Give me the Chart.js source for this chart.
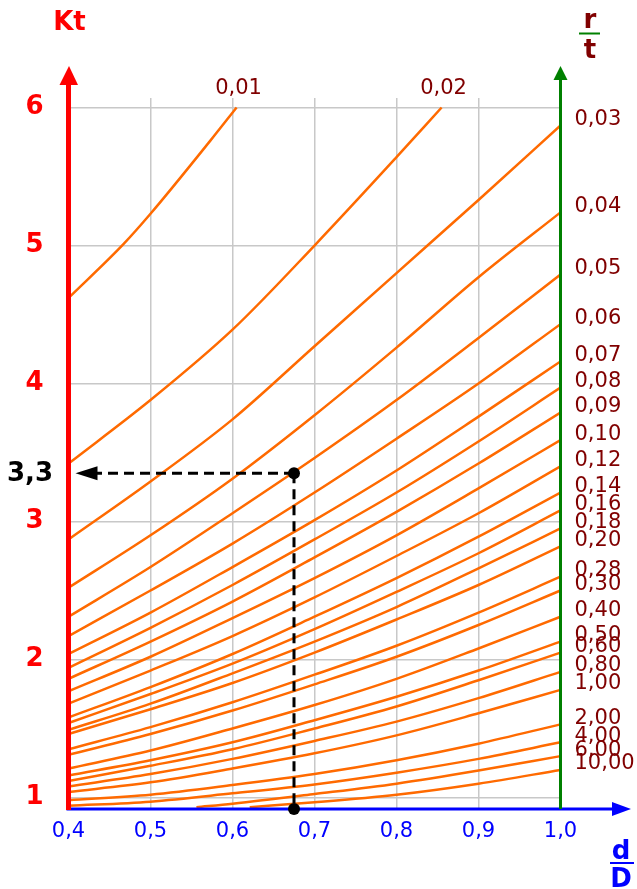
<!DOCTYPE html>
<html>
<head>
<meta charset="utf-8">
<script src="https://cdn.jsdelivr.net/npm/chart.js@4.4.1/dist/chart.umd.min.js"></script>
<style>
  html, body { margin: 0; padding: 0; background: #ffffff; }
  #wrap { width: 637px; height: 889px; }
</style>
</head>
<body>
<div id="wrap"><canvas id="c" width="637" height="889"></canvas></div>
<script>
// ---- Data ----
// x : d/D ratio, y : stress concentration factor Kt, one curve per r/t value
const dD = [0.4, 0.5, 0.6, 0.7, 0.8, 0.9, 1.0];
const xTickValues = [0.4, 0.5, 0.6, 0.7, 0.8, 0.9, 1.0];
const yTickValues = [1, 2, 3, 4, 5, 6];

const dD_001 = [0.4, 0.467, 0.5, 0.573, 0.605];
const kt_001 = [4.62, 5.01, 5.23, 5.76, 6.0];
const dD_002 = [0.4, 0.5, 0.6, 0.7, 0.8, 0.855];
const kt_002 = [3.42, 3.88, 4.39, 5.0, 5.64, 6.0];
const kt_003 = [2.87, 3.29, 3.74, 4.27, 4.80, 5.33, 5.87];
const kt_004 = [2.52, 2.90, 3.31, 3.77, 4.26, 4.77, 5.24];
const kt_005 = [2.31, 2.67, 3.06, 3.46, 3.88, 4.33, 4.79];
const kt_006 = [2.17, 2.50, 2.84, 3.21, 3.60, 4.00, 4.43];
const kt_007 = [2.04, 2.34, 2.67, 3.01, 3.37, 3.76, 4.16];
const kt_008 = [1.94, 2.23, 2.54, 2.87, 3.21, 3.58, 3.97];
const kt_009 = [1.86, 2.13, 2.42, 2.74, 3.07, 3.42, 3.79];
const kt_010 = [1.77, 2.02, 2.30, 2.59, 2.90, 3.24, 3.59];
const kt_012 = [1.68, 1.92, 2.17, 2.45, 2.75, 3.06, 3.40];
const kt_014 = [1.58, 1.80, 2.04, 2.31, 2.59, 2.89, 3.21];
const kt_016 = [1.54, 1.75, 1.97, 2.22, 2.49, 2.77, 3.08];
const kt_018 = [1.49, 1.68, 1.90, 2.13, 2.38, 2.66, 2.95];
const kt_020 = [1.46, 1.64, 1.83, 2.05, 2.29, 2.54, 2.82];
const kt_028 = [1.35, 1.51, 1.69, 1.89, 2.10, 2.34, 2.60];
const kt_030 = [1.31, 1.46, 1.63, 1.82, 2.02, 2.25, 2.50];
const kt_040 = [1.21, 1.34, 1.50, 1.67, 1.86, 2.08, 2.31];
const kt_050 = [1.16, 1.27, 1.40, 1.56, 1.73, 1.92, 2.13];
const kt_060 = [1.12, 1.23, 1.35, 1.50, 1.66, 1.85, 2.05];
const kt_080 = [1.08, 1.17, 1.28, 1.41, 1.55, 1.72, 1.91];
const kt_100 = [1.04, 1.11, 1.21, 1.32, 1.45, 1.61, 1.78];
const kt_200 = [0.98, 1.02, 1.09, 1.17, 1.27, 1.39, 1.53];
const kt_400 = [0.94, 0.97, 1.03, 1.095, 1.18, 1.28, 1.40];
const dD_600 = [0.556, 0.6, 0.7, 0.8, 0.9, 1.0];
const kt_600 = [0.93, 0.955, 1.025, 1.10, 1.195, 1.30];
const dD_1000 = [0.621, 0.7, 0.8, 0.9, 1.0];
const kt_1000 = [0.93, 0.965, 1.02, 1.10, 1.20];

const rtLabels = ['0,01','0,02','0,03','0,04','0,05','0,06','0,07','0,08','0,09','0,10',
  '0,12','0,14','0,16','0,18','0,20','0,28','0,30','0,40','0,50','0,60','0,80',
  '1,00','2,00','4,00','6,00','10,00'];
const curveX = [dD_001, dD_002, dD, dD, dD, dD, dD, dD, dD, dD,
  dD, dD, dD, dD, dD, dD, dD, dD, dD, dD, dD, dD, dD, dD, dD_600, dD_1000];
const curveKt = [kt_001, kt_002, kt_003, kt_004, kt_005, kt_006, kt_007, kt_008, kt_009, kt_010,
  kt_012, kt_014, kt_016, kt_018, kt_020, kt_028, kt_030, kt_040, kt_050, kt_060, kt_080,
  kt_100, kt_200, kt_400, kt_600, kt_1000];

// worked example
const exampleDD = 0.675;
const exampleKt = 3.35;
const exampleLabel = '3,3';

// ---- Build datasets ----
const datasets = rtLabels.map((lab, i) => ({
  label: lab,
  data: curveX[i].map((xv, j) => ({ x: xv, y: curveKt[i][j] })),
  borderColor: '#ff6a00',
  borderWidth: 2.5,
  pointRadius: 0,
  fill: false,
  cubicInterpolationMode: 'monotone'
}));

const FONT = "'DejaVu Sans', Verdana, sans-serif";

function tri(ctx, pts, color) {
  ctx.beginPath();
  ctx.moveTo(pts[0][0], pts[0][1]);
  ctx.lineTo(pts[1][0], pts[1][1]);
  ctx.lineTo(pts[2][0], pts[2][1]);
  ctx.closePath();
  ctx.fillStyle = color;
  ctx.fill();
}
function seg(ctx, x1, y1, x2, y2, color, w, dash) {
  ctx.beginPath();
  ctx.setLineDash(dash || []);
  ctx.moveTo(x1, y1); ctx.lineTo(x2, y2);
  ctx.strokeStyle = color; ctx.lineWidth = w;
  ctx.stroke();
  ctx.setLineDash([]);
}
function dot(ctx, x, y, r) {
  ctx.beginPath(); ctx.arc(x, y, r, 0, Math.PI * 2);
  ctx.fillStyle = '#000'; ctx.fill();
}

const deco = {
  id: 'deco',
  afterDatasetsDraw(chart) {
    const { ctx, chartArea: ca, scales: { x, y } } = chart;
    ctx.save();
    const yb = ca.bottom;
    const xr = x.getPixelForValue(0.4);
    const xg = x.getPixelForValue(1.0);

    // blue d/D axis
    seg(ctx, xr - 2, yb, 614, yb, '#0000ff', 3);
    tri(ctx, [[631, yb], [612, yb - 7], [612, yb + 7]], '#0000ff');
    // green r/t axis
    seg(ctx, xg, yb, xg, 79, '#008000', 3);
    tri(ctx, [[xg, 66], [xg - 7, 80], [xg + 7, 80]], '#008000');
    // red Kt axis
    seg(ctx, xr, yb + 1, xr, 82, '#ff0000', 5);
    tri(ctx, [[xr + 0.5, 66], [xr - 9, 85], [xr + 9.5, 85]], '#ff0000');

    // curve labels
    ctx.font = '21px ' + FONT;
    ctx.fillStyle = '#800000';
    chart.data.datasets.forEach((ds, i) => {
      const meta = chart.getDatasetMeta(i);
      const last = meta.data[meta.data.length - 1];
      const lastX = ds.data[ds.data.length - 1].x;
      if (lastX >= 1.0) {
        ctx.textAlign = 'left'; ctx.textBaseline = 'middle';
        ctx.fillText(ds.label, xg + 14, last.y - 6);
      } else {
        ctx.textAlign = 'center'; ctx.textBaseline = 'middle';
        ctx.fillText(ds.label, last.x + 2, last.y - 19);
      }
    });

    // worked example: dashed guide lines
    const px = x.getPixelForValue(exampleDD);
    const py = y.getPixelForValue(exampleKt);
    seg(ctx, px, py, px, yb, '#000', 3, [10, 6]);
    seg(ctx, px, py, xr + 28, py, '#000', 3, [10, 6]);
    tri(ctx, [[xr + 7, py], [xr + 29, py - 7], [xr + 29, py + 7]], '#000');
    dot(ctx, px, py, 6);
    dot(ctx, px, yb, 6);
    ctx.font = 'bold 26px ' + FONT;
    ctx.fillStyle = '#000';
    ctx.textAlign = 'center'; ctx.textBaseline = 'middle';
    ctx.fillText(exampleLabel, 30, py + 1);

    // axis titles
    ctx.font = 'bold 26px ' + FONT;
    ctx.fillStyle = '#ff0000';
    ctx.fillText('Kt', xr + 1, 23);

    ctx.fillStyle = '#800000';
    ctx.fillText('r', 590, 21);
    ctx.fillText('t', 590, 51);
    seg(ctx, 579, 33.5, 600, 33.5, '#008000', 2);

    ctx.fillStyle = '#0000ff';
    ctx.fillText('d', 621, 852);
    ctx.fillText('D', 621, 880);
    seg(ctx, 610, 863, 634, 863, '#0000ff', 2);

    ctx.restore();
  }
};

new Chart(document.getElementById('c'), {
  type: 'line',
  data: { datasets },
  options: {
    responsive: false,
    animation: false,
    devicePixelRatio: 1,
    layout: { padding: { left: 0, right: 76.5, top: 98, bottom: 0 } },
    plugins: { legend: { display: false }, tooltip: { enabled: false } },
    elements: { line: { tension: 0.4 } },
    scales: {
      x: {
        type: 'linear',
        min: 0.4, max: 1.0,
        afterFit: s => { s.height = 80; },
        afterBuildTicks: s => { s.ticks = xTickValues.map(v => ({ value: v })); },
        grid: { color: '#c8c8c8', lineWidth: 1.5, drawTicks: false },
        border: { display: false },
        ticks: {
          padding: 10,
          color: '#0000ff',
          font: { family: FONT, size: 21 },
          callback: v => Number(v).toFixed(1).replace('.', ',')
        }
      },
      y: {
        type: 'linear',
        min: 0.9167, max: 6.069,
        afterFit: s => { s.width = 68.5; },
        afterBuildTicks: s => { s.ticks = yTickValues.map(v => ({ value: v })); },
        grid: { color: '#c8c8c8', lineWidth: 1.5, drawTicks: false },
        border: { display: false },
        ticks: {
          padding: 25,
          color: '#ff0000',
          font: { family: FONT, size: 26, weight: 'bold' },
          callback: v => String(v)
        }
      }
    }
  },
  plugins: [deco]
});
</script>
</body>
</html>
